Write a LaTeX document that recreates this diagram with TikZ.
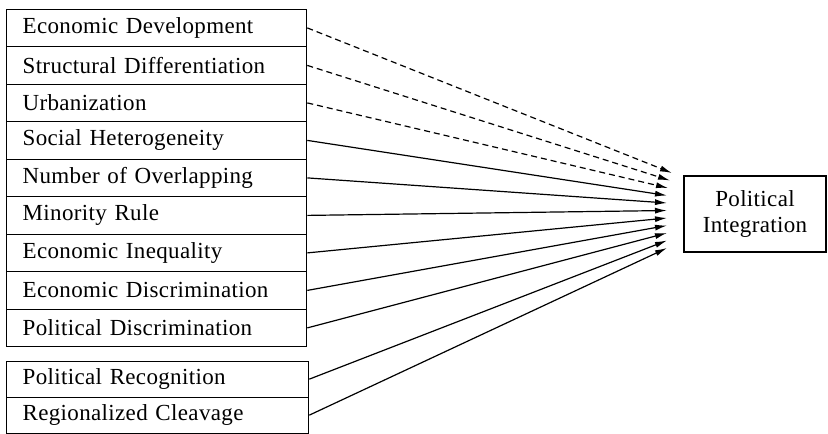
\documentclass[tikz,border=0pt]{standalone}
\usepackage{fontspec}
\setmainfont{Liberation Serif}[LetterSpace=1.5,WordSpace=1.6]
\usetikzlibrary{arrows.meta}
\begin{document}
\begin{tikzpicture}[x=1pt,y=1pt,
  rowbox/.style={draw,line width=1.3pt,anchor=north west,minimum height=37.5pt,
    text width=268pt,inner xsep=16pt,inner ysep=0pt,align=left,
    font=\fontsize{23}{26}\selectfont},
  rowboxb/.style={rowbox,minimum height=36pt,text width=270pt},
  target/.style={draw,line width=1.3pt,minimum width=142pt,minimum height=76pt,
    align=center,font=\fontsize{23}{26}\selectfont,inner sep=0pt},
  conn/.style={line width=1.2pt,-{Latex[length=12pt,width=6pt]}},
  dconn/.style={conn,dash pattern=on 6pt off 4pt}]
\useasboundingbox (0,0) rectangle (828,-434);
\node[rowbox] (r1) at (6,-8.5) {Economic Development};
\node[rowbox] (r2) at (6,-46) {Structural Differentiation};
\node[rowbox] (r3) at (6,-83.5) {Urbanization};
\node[rowbox] (r4) at (6,-121) {Social Heterogeneity};
\node[rowbox] (r5) at (6,-158.5) {Number of Overlapping};
\node[rowbox] (r6) at (6,-196) {Minority Rule};
\node[rowbox] (r7) at (6,-233.5) {Economic Inequality};
\node[rowbox] (r8) at (6,-271) {Economic Discrimination};
\node[rowbox] (r9) at (6,-308.5) {Political Discrimination};
\node[rowboxb] (r10) at (6,-360.5) {Political Recognition};
\node[rowboxb] (r11) at (6,-396.5) {Regionalized Cleavage};
\node[target] (pi) at (755,-214) {Political\\Integration};
\coordinate (e1) at (672,-173);
\coordinate (e2) at (670,-180.5);
\coordinate (e3) at (668,-188);
\coordinate (e4) at (667,-195.5);
\coordinate (e5) at (667,-203);
\coordinate (e6) at (667,-210.5);
\coordinate (e7) at (667,-218);
\coordinate (e8) at (667,-225.5);
\coordinate (e9) at (667,-233);
\coordinate (e10) at (667,-240.5);
\coordinate (e11) at (667,-248);
\draw[dconn] (r1.east) -- (e1);
\draw[dconn] (r2.east) -- (e2);
\draw[dconn] (r3.east) -- (e3);
\foreach \i in {4,...,11} {\draw[conn] (r\i.east) -- (e\i);}
\end{tikzpicture}
\end{document}
